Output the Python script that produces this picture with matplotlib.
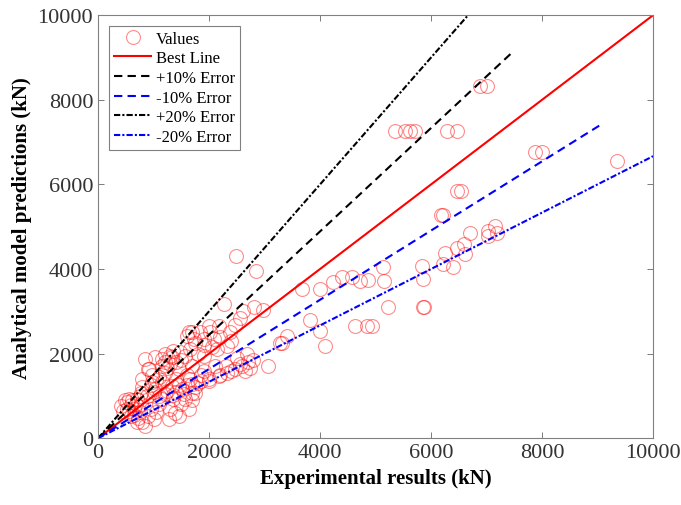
import numpy as np
import matplotlib
matplotlib.use("Agg")
import matplotlib.pyplot as plt

plt.rcParams['font.family'] = ['Liberation Serif', 'DejaVu Serif']

# experimental (x) vs predicted (y), kN
exp_vals = [
    420, 480, 520, 550, 600, 560, 640, 700, 650, 720, 800, 850, 760, 780, 520, 450, 600, 700, 680, 750,
    800, 850, 900, 800, 780,
    900, 950, 1000, 1050, 1090, 1150, 1200, 1270, 1300, 1350, 1390, 1450, 1500, 1570, 1630, 1700, 1750,
    1690, 1510, 1330, 1150, 970, 1030, 1210, 1450, 910, 1030, 1150, 1330, 1570, 1600, 1690, 1750, 1300,
    1100, 1400, 1600, 1800, 1850, 1700, 1990, 2170, 2320, 2470, 2560, 2740, 1200, 1000, 1400, 1600, 1500,
    1250,
    1480, 1300, 1660, 1630, 1840, 2020, 2380, 1720, 1900, 2080, 2140, 2320, 2170, 2470, 2550, 2270, 2620,
    2810, 2970, 2680, 1900, 2000, 2200, 2400, 1800,
    2000, 2200, 2400, 2600, 2700, 2300, 2100, 2500, 2800, 1900, 2650,
    1100, 1250, 1350, 1450, 1550, 1650, 1750, 1850, 950, 1050, 1150, 1400, 1700, 1900, 2050, 1200,
    1350, 880, 620, 980,
    2490, 2850, 3310, 3400, 3280, 3670, 4000, 3810, 3990, 4090, 3070, 4240, 4390, 4570, 4720, 4870,
    5150, 5140, 5230, 4630, 4840, 4930, 5860, 5875, 5830, 5860, 6220, 6400, 6250, 6460, 6610, 6600,
    6700, 7020, 7150, 7180, 7030, 6180, 6220, 6470, 6540, 5350, 5530, 5620, 5710, 6290, 6470, 6880,
    7010, 7870, 8000, 9350,
]
pred_vals = [
    760, 900, 850, 920, 780, 640, 700, 920, 560, 480, 380, 300, 620, 820, 700, 650, 520, 380, 820, 1000,
    1400, 1870, 1640, 1200, 1080,
    530, 700, 450, 610, 800, 920, 1050, 450, 700, 920, 600, 530, 800, 920, 690, 900, 1080,
    1080, 1160, 1240, 1320, 1320, 1160, 1550, 1630, 1630, 1910, 1870, 1910, 1950, 2420, 2500, 2260, 1750,
    1450, 1400, 1250, 1300, 1360, 1280, 1400, 1470, 1550, 1630, 1750, 1670, 1800, 1100, 1100, 1500, 1850,
    1650,
    2030, 1950, 2100, 2500, 2500, 2500, 2500, 2340, 2340, 2340, 2100, 2180, 2660, 2670, 2850, 3170, 3010,
    3090, 3030, 1990, 2200, 2650, 2400, 2300, 2000,
    1350, 1500, 1600, 1700, 1800, 1700, 1700, 1900, 1850, 1600, 1600,
    1000, 1120, 1020, 1250, 1050, 1400, 1200, 1500, 1250, 1380, 1700, 1800, 1700, 1950, 2150, 2000,
    2050, 1000, 900, 1500,
    4300, 3960, 2260, 2420, 2260, 3520, 3520, 2800, 2540, 2180, 1710, 3700, 3820, 3820, 3720, 3750,
    3720, 4040, 3090, 2660, 2660, 2660, 3110, 3090, 4070, 3760, 4110, 4050, 4380, 4500, 4350, 4600,
    4850, 4900, 5020, 4850, 4780, 5270, 5280, 5840, 5840, 7260, 7260, 7260, 7260, 7260, 7260, 8320,
    8320, 6760, 6760, 6550,
]

# reference lines: (label, slope, x end)
line_labels = ['Best Line', '+10% Error', '-10% Error', '+20% Error', '-20% Error']
line_slopes = [1.0, 1.1 / 0.9, 0.9 / 1.1, 1.5, 1 / 1.5]
line_xend = [10000, 7450, 9100, 6667, 10000]

fig = plt.figure(figsize=(6.81, 5.06), dpi=100)
ax = fig.add_axes([0.144, 0.132, 0.815, 0.836])

ax.plot(exp_vals, pred_vals, 'o', ms=10, mfc='none', mec=(1, 0, 0, 0.45), mew=0.8, label='Values')

styles = [
    dict(color='red', ls='-'),
    dict(color='black', ls=(0, (4, 2.5))),
    dict(color='blue', ls=(0, (4, 2.5))),
    dict(color='black', ls=(0, (3, 1, 1, 1))),
    dict(color='blue', ls=(0, (3, 1, 1, 1))),
]
for lab, k, xe, st in zip(line_labels, line_slopes, line_xend, styles):
    xs = np.array([0, xe])
    ax.plot(xs, k * xs, lw=1.5, label=lab, **st)

ax.set_xlim(0, 10000)
ax.set_ylim(0, 10000)
ax.set_xticks([0, 2000, 4000, 6000, 8000, 10000])
ax.set_yticks([0, 2000, 4000, 6000, 8000, 10000])
ax.tick_params(direction='in', top=True, right=True, length=4, width=0.6,
               color='0.4', labelcolor='0.2', labelsize=16)
for sp in ax.spines.values():
    sp.set_color('0.5')
    sp.set_linewidth(0.8)

ax.set_xlabel('Experimental results (kN)', fontsize=15, fontweight='bold', labelpad=4)
ax.set_ylabel('Analytical model predictions (kN)', fontsize=15, fontweight='bold', labelpad=4)

leg = ax.legend(loc='upper left', fontsize=12, handlelength=2.2, handletextpad=0.3,
                labelspacing=0.22, borderpad=0.3, fancybox=False, framealpha=1,
                bbox_to_anchor=(0.005, 0.995))
leg.get_frame().set_edgecolor('0.5')
leg.get_frame().set_linewidth(0.8)

fig.savefig('out.png', dpi=100)
